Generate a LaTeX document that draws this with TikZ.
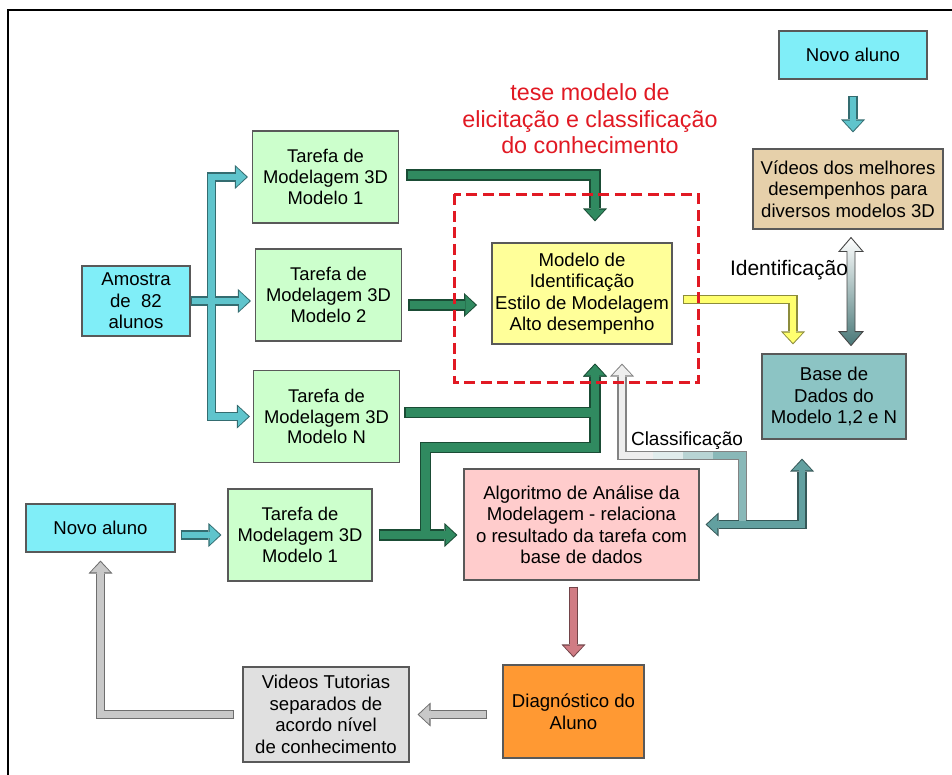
\documentclass[tikz,border=0pt]{standalone}
\usepackage{fontspec}
\setmainfont{Liberation Sans}
\usetikzlibrary{arrows.meta}

\definecolor{ciano}{RGB}{128,238,248}
\definecolor{verdeclaro}{RGB}{204,255,204}
\definecolor{amarelo}{RGB}{255,255,153}
\definecolor{bege}{RGB}{230,208,170}
\definecolor{petroleo}{RGB}{140,196,196}
\definecolor{rosa}{RGB}{255,204,204}
\definecolor{laranja}{RGB}{255,153,51}
\definecolor{cinza}{RGB}{224,224,224}
\definecolor{setaciano}{RGB}{95,196,204}
\definecolor{setaverde}{RGB}{48,138,96}
\definecolor{setaamarela}{RGB}{255,255,110}
\definecolor{setarosa}{RGB}{208,124,132}
\definecolor{setacinza}{RGB}{200,200,200}
\definecolor{setapetroleo}{RGB}{98,160,160}
\definecolor{setaclara}{RGB}{238,238,238}
\definecolor{vermelho}{RGB}{225,25,35}

\begin{document}
\begin{tikzpicture}[x=1pt, y=-1pt,
            caixa/.style={draw=black!65, line width=1.1pt, align=center, inner sep=1pt,
                font=\fontsize{18.6}{21.5}\selectfont},
            aluno/.style={caixa, fill=ciano},
            tarefa/.style={caixa, fill=verdeclaro, minimum width=146pt, minimum height=92pt,
                font=\fontsize{18.4}{20.8}\selectfont},
            rotulo/.style={inner sep=0pt, font=\fontsize{19}{21}\selectfont},
            seta/.style={draw=#1!\pct!black, line width=\lw,
                >={Triangle[width=\pw, length=\pl, line width=0pt]}},
            larga/.style={line width=\lwg},
            folga/.style 2 args={shorten <=#1+\folga, shorten >=#2+\folga}]
        \fill[white] (0,0) rectangle (952,775);
        \useasboundingbox (0,0) rectangle (952,775);
        \draw[line width=2.6pt] (8,775) -- (8,10) -- (952,10);

        \node[aluno, minimum width=108pt, minimum height=70pt] (amostra) at (136,301) {Amostra\\de\ \ 82\\alunos};
        \node[tarefa] (t1) at (325.5,177) {Tarefa de\\Modelagem 3D\\Modelo 1};
        \node[tarefa] (t2) at (328.5,295) {Tarefa de\\Modelagem 3D\\Modelo 2};
        \node[tarefa] (tn) at (326.5,416.5) {Tarefa de\\Modelagem 3D\\Modelo N};
        \node[aluno, minimum width=149pt, minimum height=48pt] (novo) at (100.5,528) {Novo aluno};
        \node[tarefa, minimum width=144pt] (tb) at (300,535) {Tarefa de\\Modelagem 3D\\Modelo 1};
        \node[caixa, fill=amarelo, minimum width=180pt, minimum height=101pt] (modelo) at (582,293.5)
            {Modelo de\\Identificação\\Estilo de Modelagem\\Alto desempenho};
        \node[aluno, minimum width=148pt, minimum height=48pt] (novob) at (853,55) {Novo aluno};
        \node[caixa, fill=bege, minimum width=190pt, minimum height=80pt] (melhores) at (848,189)
            {Vídeos dos melhores\\desempenhos para\\diversos modelos 3D};
        \node[caixa, fill=petroleo, minimum width=144pt, minimum height=85pt] (base) at (834,396.5)
            {Base de\\Dados do\\Modelo 1,2 e N};
        \node[caixa, fill=rosa, minimum width=235pt, minimum height=111pt] (algoritmo) at (581.5,524.5)
            {Algoritmo de Análise da\\Modelagem - relaciona\\o resultado da tarefa com\\base de dados};
        \node[caixa, fill=laranja, minimum width=141pt, minimum height=93pt] (diagnostico) at (573.5,711.5)
            {Diagnóstico do\\Aluno};
        \node[caixa, fill=cinza, minimum width=166pt, minimum height=95pt] (tutoriais) at (326,714.5)
            {Videos Tutorias\\separados de\\acordo nível\\de conhecimento};

        \coordinate (ramo) at ([xshift=21pt]amostra.east);
        \coordinate (juncao) at ([xshift=53pt]tb.east);
        \coordinate (sobe) at ([xshift=13pt]modelo.south);
        \coordinate (cruza) at ([xshift=43pt]algoritmo.east);

        \foreach \pct/\folga/\lw/\lwg/\pw/\pl in {55/0pt/9.4pt/11.4pt/24pt/13pt, 100/1.6pt/6.8pt/8.8pt/19.5pt/10.2pt}{
            \draw[seta=setaciano, folga={0pt}{4pt}, ->] (amostra.east) -- (amostra.east -| t2.west);
            \draw[seta=setaciano, folga={-1.6pt}{4pt}, ->] (ramo) |- (t1.west);
            \draw[seta=setaciano, folga={-1.6pt}{3pt}, ->] (ramo) |- (tn.west);
            \draw[seta=setaciano, folga={5pt}{6pt}, ->] (novo.east |- tb.west) -- (tb.west);
            \draw[seta=setaciano, folga={16pt}{16pt}, ->] (novob.south) -- (novob.south |- melhores.north);
            \draw[seta=setaverde, larga, folga={7pt}{21pt}, ->] ([yshift=2pt]t1.east) -| ([xshift=13pt]modelo.north);
            \draw[seta=setaverde, larga, folga={6pt}{14pt}, ->] ([yshift=-10pt]t2.east) -- ++(89,0);
            \draw[seta=setaverde, larga, folga={4pt}{19pt}, ->] ([yshift=4pt]tn.east) -| (sobe);
            \draw[seta=setaverde, larga, folga={-4.4pt}{19pt}, ->] (juncao) |- ([yshift=-103pt]sobe) -- (sobe);
            \draw[seta=setaverde, larga, folga={6pt}{6pt}, ->] (tb.east) -- (tb.east -| algoritmo.west);
            \draw[seta=setaamarela, folga={10pt}{9pt}, ->] ([yshift=-6pt]modelo.east) -| ([xshift=-41pt]base.north);
            \draw[seta=setaclara, folga={-3.4pt}{19pt}, ->] (cruza) -- ++(0,-69) -| ([xshift=40pt]modelo.south);
            \draw[seta=setapetroleo, folga={19pt}{6pt}, <->] ([xshift=-32pt]base.south) |- (algoritmo.east);
            \draw[seta=setarosa, folga={6pt}{7pt}, ->] (diagnostico.north |- algoritmo.south) -- (diagnostico.north);
            \draw[seta=setacinza, folga={15pt}{8pt}, ->] (diagnostico.west |- tutoriais.east) -- (tutoriais.east);
            \draw[seta=setacinza, folga={8pt}{8pt}, ->] (tutoriais.west) -| (novo.south);
        }
        \draw[line width=6.8pt, setapetroleo!75!white] ([yshift=3.4pt]cruza) -- ++(0,-65.6) -- ++(-30,0) coordinate (meio);
        \draw[line width=6.8pt, setapetroleo!45!white] (meio) -- ++(-30,0) coordinate (fim);
        \draw[line width=6.8pt, setapetroleo!20!white] (fim) -- ++(-30,0);

        \shade[top color=white, middle color=bege!70!white, bottom color=setapetroleo!75!black,
            draw=gray!55!black, line width=0.9pt]
            ([xshift=3pt,yshift=-8pt]melhores.south) -- ++(12,14) -- ++(-8,0) -- ++(0,80) -- ++(8,0)
            -- ++(-12,14) -- ++(-12,-14) -- ++(8,0) -- ++(0,-80) -- ++(-8,0) -- cycle;

        \draw[vermelho, line width=3.6pt, dash pattern=on 11pt off 5.5pt]
            ([xshift=-37pt,yshift=48pt]modelo.north west) rectangle ([xshift=26pt,yshift=-38pt]modelo.south east);

        \node[align=center, text=vermelho, font=\fontsize{23.3}{26.5}\selectfont] (tese) at (590,119)
            {tese modelo de\\elicitação e classificação\\do conhecimento};
        \node[rotulo, font=\fontsize{21}{21}\selectfont] (ident) at (789,270) {Identificação};
        \node[rotulo] (classif) at (687,441) {Classificação};
\end{tikzpicture}
\end{document}
